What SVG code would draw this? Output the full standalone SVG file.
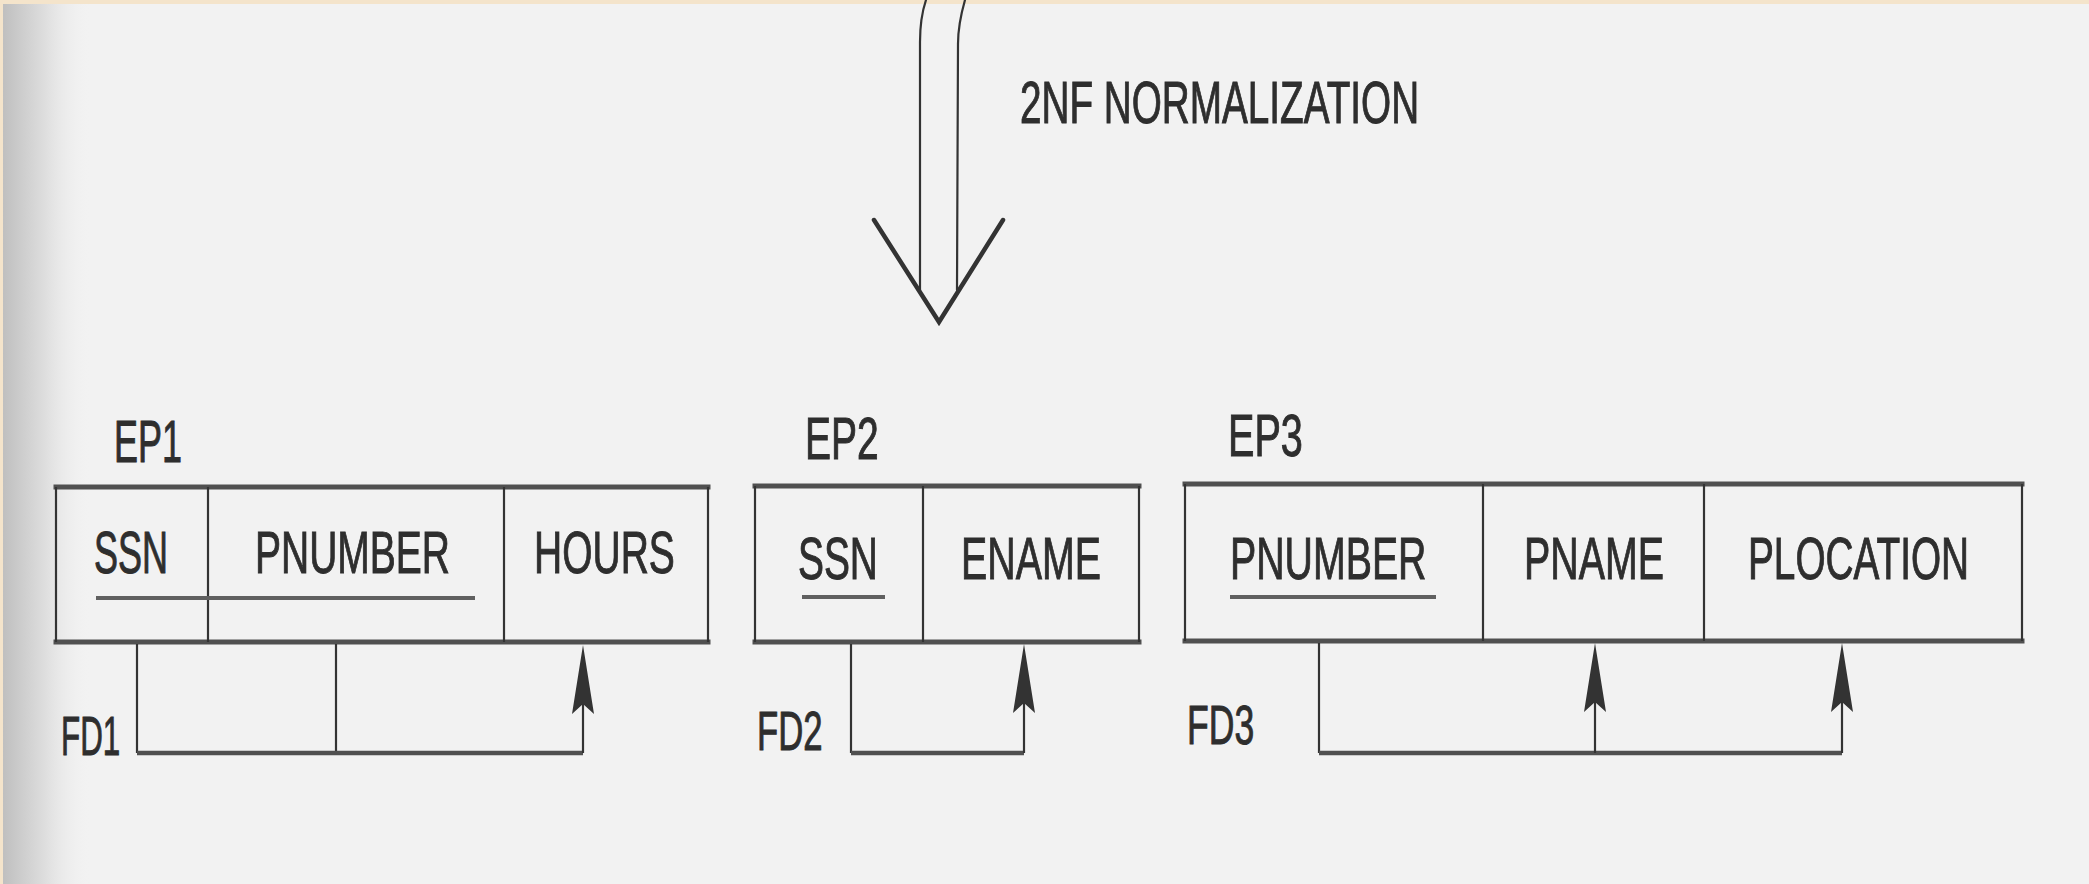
<svg xmlns="http://www.w3.org/2000/svg" width="2089" height="884" viewBox="0 0 2089 884">
  <defs>
    <linearGradient id="leftShade" x1="0" y1="0" x2="1" y2="0">
      <stop offset="0" stop-color="#bdbdbd"/>
      <stop offset="0.5" stop-color="#dedede"/>
      <stop offset="1" stop-color="#f1f1f1" stop-opacity="0"/>
    </linearGradient>
    <style>
      .t { font-family: "Liberation Sans", Arial, Helvetica, sans-serif; fill: #2e2e2e; stroke: #2e2e2e; stroke-width: 1; }
      .f60 { font-size: 60px; }
      .f56 { font-size: 56px; }
      .hb { stroke: #505050; stroke-width: 5; fill: none; stroke-linecap: square; }
      .vb { stroke: #333333; stroke-width: 2.2; fill: none; }
      .ul { stroke: #606060; stroke-width: 4; fill: none; }
      .cv { stroke: #333333; stroke-width: 2.2; fill: none; }
      .ch { stroke: #505050; stroke-width: 4.5; fill: none; }
      .head { fill: #333333; stroke: none; }
      .big { stroke: #333333; fill: none; stroke-linecap: round; stroke-linejoin: miter; }
    </style>
  </defs>

  <!-- page background -->
  <rect x="0" y="0" width="2089" height="884" fill="#f2f2f2"/>
  <rect x="0" y="0" width="90" height="884" fill="url(#leftShade)"/>
  <rect x="0" y="0" width="2089" height="4" fill="#f4e4cb"/>
  <rect x="0" y="0" width="3" height="884" fill="#f4e4cb"/>

  <!-- title and normalization arrow -->
  <g id="normalization">
    <path class="big" stroke-width="2.2" d="M926 0 C922 12 920 28 920 42 L920 290"/>
    <path class="big" stroke-width="2.2" d="M965 0 C961 14 958 30 958 44 L957 290"/>
    <path class="big" stroke-width="4.5" d="M874 220 L939 322 L1003 220"/>
    <text class="t f60" transform="translate(1020 123) scale(0.645 1)">2NF NORMALIZATION</text>
  </g>

  <!-- EP1 -->
  <g id="EP1">
    <text class="t f60" transform="translate(114 462) scale(0.6 1)">EP1</text>
    <line class="hb" x1="56" y1="487" x2="708" y2="487"/>
    <line class="hb" x1="56" y1="642" x2="708" y2="642"/>
    <line class="vb" x1="56" y1="487" x2="56" y2="642"/>
    <line class="vb" x1="708" y1="487" x2="708" y2="642"/>
    <line class="vb" x1="208" y1="487" x2="208" y2="642"/>
    <line class="vb" x1="504" y1="487" x2="504" y2="642"/>
    <text class="t f60" transform="translate(94 573) scale(0.6 1)">SSN</text>
    <text class="t f60" transform="translate(255 573) scale(0.65 1)">PNUMBER</text>
    <text class="t f60" transform="translate(534 573) scale(0.65 1)">HOURS</text>
    <line class="ul" x1="96" y1="598" x2="475" y2="598"/>
  </g>

  <!-- EP2 -->
  <g id="EP2">
    <text class="t f60" transform="translate(805 459) scale(0.65 1)">EP2</text>
    <line class="hb" x1="755" y1="486" x2="1139" y2="486"/>
    <line class="hb" x1="755" y1="642" x2="1139" y2="642"/>
    <line class="vb" x1="755" y1="486" x2="755" y2="642"/>
    <line class="vb" x1="1139" y1="486" x2="1139" y2="642"/>
    <line class="vb" x1="923" y1="486" x2="923" y2="642"/>
    <text class="t f60" transform="translate(798 579) scale(0.648 1)">SSN</text>
    <text class="t f60" transform="translate(961 579) scale(0.656 1)">ENAME</text>
    <line class="ul" x1="802" y1="597" x2="885" y2="597"/>
  </g>

  <!-- EP3 -->
  <g id="EP3">
    <text class="t f60" transform="translate(1228 456) scale(0.66 1)">EP3</text>
    <line class="hb" x1="1185" y1="484" x2="2022" y2="484"/>
    <line class="hb" x1="1185" y1="641" x2="2022" y2="641"/>
    <line class="vb" x1="1185" y1="484" x2="1185" y2="641"/>
    <line class="vb" x1="2022" y1="484" x2="2022" y2="641"/>
    <line class="vb" x1="1483" y1="484" x2="1483" y2="641"/>
    <line class="vb" x1="1704" y1="484" x2="1704" y2="641"/>
    <text class="t f60" transform="translate(1230 579) scale(0.655 1)">PNUMBER</text>
    <text class="t f60" transform="translate(1524 579) scale(0.656 1)">PNAME</text>
    <text class="t f60" transform="translate(1748 579) scale(0.646 1)">PLOCATION</text>
    <line class="ul" x1="1230" y1="597" x2="1436" y2="597"/>
  </g>

  <!-- functional dependency connectors -->
  <g id="connectors">
    <g id="FD1">
      <text class="t f56" transform="translate(61 755) scale(0.56 1)">FD1</text>
      <line class="cv" x1="137" y1="644" x2="137" y2="753"/>
      <line class="cv" x1="336" y1="644" x2="336" y2="753"/>
      <line class="ch" x1="137" y1="753" x2="583" y2="753"/>
      <line class="cv" x1="583" y1="753" x2="583" y2="700"/>
      <path class="head" d="M583 645 L594 714 L583 704 L572 714 Z"/>
    </g>
    <g id="FD2">
      <text class="t f56" transform="translate(757 750) scale(0.62 1)">FD2</text>
      <line class="cv" x1="851" y1="644" x2="851" y2="753"/>
      <line class="ch" x1="851" y1="753" x2="1024" y2="753"/>
      <line class="cv" x1="1024" y1="753" x2="1024" y2="700"/>
      <path class="head" d="M1024 644 L1035 713 L1024 703 L1013 713 Z"/>
    </g>
    <g id="FD3">
      <text class="t f56" transform="translate(1187 744) scale(0.635 1)">FD3</text>
      <line class="cv" x1="1319" y1="643" x2="1319" y2="753"/>
      <line class="ch" x1="1319" y1="753" x2="1842" y2="753"/>
      <line class="cv" x1="1595" y1="753" x2="1595" y2="700"/>
      <path class="head" d="M1595 643 L1606 712 L1595 702 L1584 712 Z"/>
      <line class="cv" x1="1842" y1="753" x2="1842" y2="700"/>
      <path class="head" d="M1842 643 L1853 712 L1842 702 L1831 712 Z"/>
    </g>
  </g>
</svg>
